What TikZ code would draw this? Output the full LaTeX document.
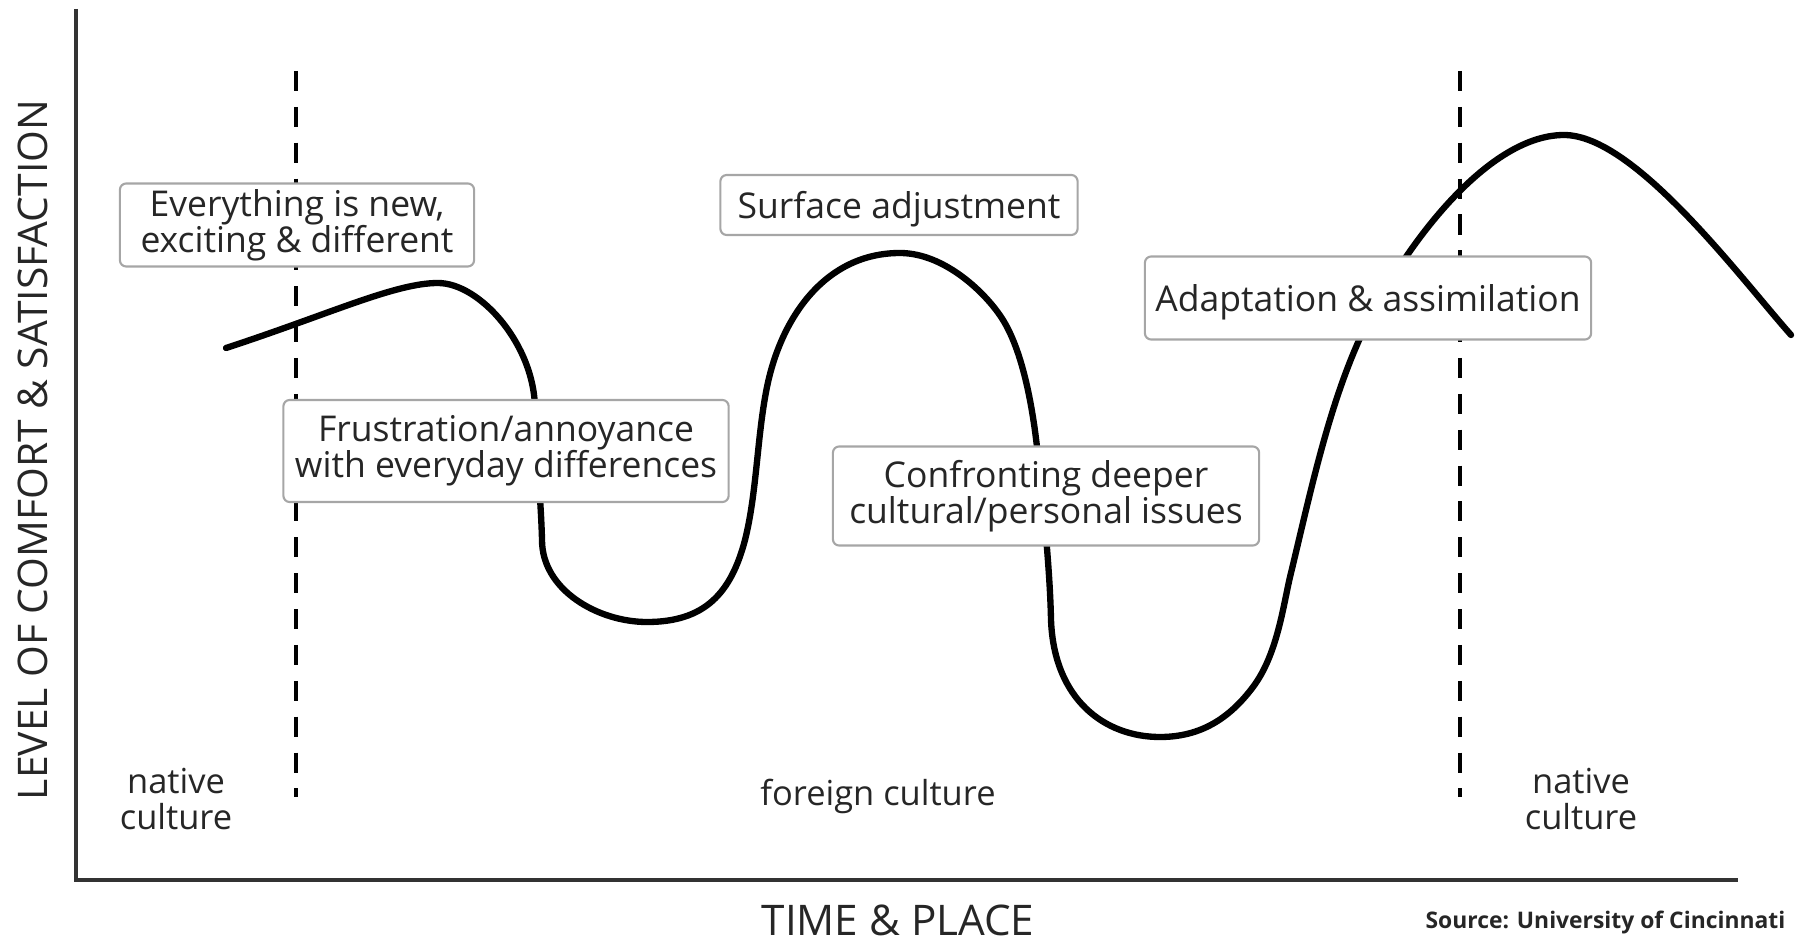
\documentclass[tikz,border=0pt]{standalone}
\usepackage{fontspec}
\setmainfont{Open Sans}
\usepackage{tikz}
\usetikzlibrary{backgrounds,calc}

\tikzset{
  stagebox/.style={draw=gray!70, fill=white, rounded corners=1.8pt, line width=0.6pt,
    align=center, inner sep=0pt, text=black!85, font=\fontsize{10.1}{10.3}\selectfont},
  oneline/.style={text height=10.2pt, text depth=2.4pt},
  region/.style={align=center, text=black!85, font=\fontsize{9.8}{10.5}\selectfont},
  axislabel/.style={text=black!85, font=\fontsize{11.6}{12}\selectfont},
  axis/.style={black!80, line width=1.1pt},
  divider/.style={black, line width=0.9pt, dash pattern=on 5.7pt off 4.5pt},
  curve/.style={black, line width=1.8pt, line cap=round}
}

\begin{document}
\begin{tikzpicture}[x=0.01cm,y=-0.01cm]
\useasboundingbox (0,0) rectangle (1797,940);

% axes
\coordinate (O) at (76,880);
\coordinate (Ytop) at (76,9);
\coordinate (Xend) at (1738,880);
\draw[axis] (Ytop) -- (O) -- (Xend);

% borders between home and abroad
\draw[divider] (296,71) -- (296,797);
\draw[divider] (1460,71) -- (1460,797);

% the W curve
\draw[curve] (226,348) .. controls (330,314) and (395,283) .. (438,283)
  .. controls (480,283) and (535,345) .. (535,410)
  .. controls (536,450) and (541,500) .. (542,540)
  .. controls (542,590) and (598,622) .. (647,622)
  .. controls (705,622) and (731,593) .. (745,540)
  .. controls (757,492) and (757,436) .. (767,387)
  .. controls (781,318) and (825,253) .. (900,253)
  .. controls (945,253) and (987,294) .. (1003,320)
  .. controls (1024,354) and (1033,412) .. (1037,447)
  .. controls (1043,501) and (1050,570) .. (1051,620)
  .. controls (1054,700) and (1105,737) .. (1160,737)
  .. controls (1200,737) and (1229,719) .. (1253,687)
  .. controls (1277,655) and (1283,607) .. (1290,577)
  .. controls (1309,499) and (1327,411) .. (1360,338)
  .. controls (1397,256) and (1484,135) .. (1564,135)
  .. controls (1634,135) and (1738,275) .. (1791,335);

% stages
\node[stagebox, minimum width=3.54cm, minimum height=0.83cm] (new) at (297,225)
  {Everything is new,\\exciting \& different};
\node[stagebox, oneline, minimum width=3.57cm, minimum height=0.60cm] (surface) at (899,205)
  {Surface adjustment};
\node[stagebox, minimum width=4.45cm, minimum height=1.02cm] (frustration) at (506,451)
  {Frustration/annoyance\\with everyday differences};
\node[stagebox, minimum width=4.26cm, minimum height=0.99cm] (confronting) at (1046,496)
  {Confronting deeper\\cultural/personal issues};
\node[stagebox, oneline, minimum width=4.46cm, minimum height=0.83cm] (adaptation) at (1368,298)
  {Adaptation \& assimilation};

% places
\node[region] (home) at (176,799) {native\\culture};
\node[region] (abroad) at (878,796) {foreign culture};
\node[region] (back) at (1581,799) {native\\culture};

% axis titles
\node[axislabel, rotate=90] (ylabel) at (33,450) {LEVEL OF COMFORT \& SATISFACTION};
\node[axislabel, font=\fontsize{12}{12}\selectfont] (xlabel) at (898,920) {TIME \& PLACE};
\node[anchor=east, inner sep=0pt, text=black!85, font=\bfseries\fontsize{6.5}{7}\selectfont] (source) at (1786,922)
  {Source: University of Cincinnati};
\end{tikzpicture}
\end{document}
